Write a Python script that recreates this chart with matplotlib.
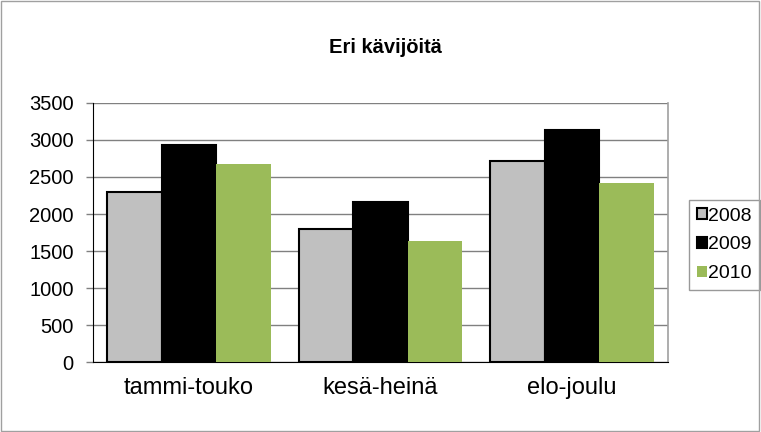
import matplotlib.pyplot as plt
import numpy as np
from matplotlib.patches import Rectangle

plt.rcParams['font.family'] = ['Liberation Sans', 'DejaVu Sans']

categories = ['tammi-touko', 'kesä-heinä', 'elo-joulu']
years = ['2008', '2009', '2010']
v2008 = [2300, 1800, 2710]
v2009 = [2930, 2160, 3130]
v2010 = [2680, 1630, 2420]
series = [v2008, v2009, v2010]
colors = ['#c0c0c0', '#000000', '#9bbb59']
edges = ['#000000', '#000000', 'none']

fig = plt.figure(figsize=(7.61, 4.32), dpi=100)
ax = fig.add_axes([0.1222, 0.162, 0.7556, 0.5996])

x = np.arange(len(categories))
w = 0.285
for i, vals in enumerate(series):
    ax.bar(x + (i - 1) * w, vals, w, color=colors[i], edgecolor=edges[i],
           linewidth=1.5 if edges[i] != 'none' else 0, label=years[i], zorder=3)

ax.set_xlim(-0.5, 2.5)
ax.set_ylim(0, 3500)
ax.set_yticks(range(0, 3501, 500))
ax.set_xticks(x)
ax.set_xticklabels(categories, fontsize=17)
ax.tick_params(axis='y', labelsize=14.5, length=5, width=1, color='#808080', pad=9)
ax.tick_params(axis='x', length=0, pad=11)
ax.yaxis.grid(True, color='#808080', linewidth=1, zorder=0)
ax.spines['top'].set_visible(False)
ax.spines['right'].set_color('#a0a0a0')
ax.spines['right'].set_linewidth(1.2)
ax.spines['left'].set_color('#000000')
ax.spines['bottom'].set_color('#000000')

fig.text(0.506, 0.891, 'Eri kävijöitä', ha='center', va='center',
         fontsize=14.5, fontweight='bold')

leg = ax.legend(loc='upper left', bbox_to_anchor=(689 / 761, 1 - 200 / 432),
                bbox_transform=fig.transFigure, fontsize=14, frameon=True,
                fancybox=False, edgecolor='#808080', handlelength=0.5,
                handleheight=0.5, handletextpad=0.1, borderpad=0.4,
                labelspacing=0.6, borderaxespad=0)
leg.get_frame().set_linewidth(1)

fig.patches.append(Rectangle((0.001, 0.002), 0.997, 0.995, transform=fig.transFigure,
                             fill=False, edgecolor='#a0a0a0', linewidth=1))

fig.savefig('out.png', dpi=100)
